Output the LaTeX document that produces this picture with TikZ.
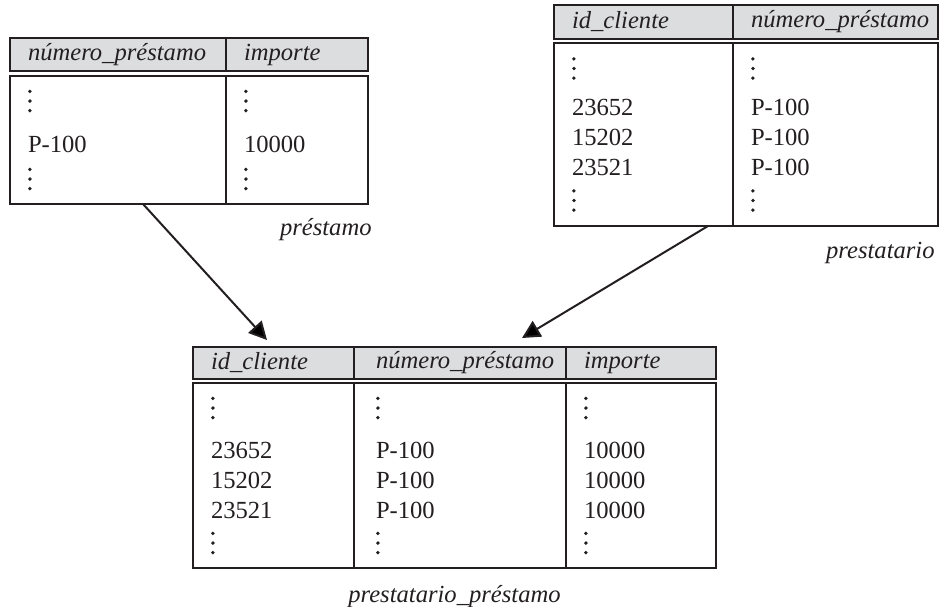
\documentclass[tikz,border=0pt]{standalone}
\usepackage{fontspec}
\setmainfont{Liberation Serif}
\usetikzlibrary{arrows.meta,positioning,calc}
\definecolor{ink}{HTML}{231F20}
\definecolor{hdr}{HTML}{DCDDDF}
\newcommand{\vdts}{\tikz[baseline=0pt]\foreach \k in {0,1,2} \fill[ink] (1.2pt,\k*4.8pt+0.9pt) circle (0.95pt);}
\tikzset{
  cell/.style  = {rectangle, draw=ink, line width=1.4pt, inner xsep=9pt, inner ysep=0pt, outer sep=0pt,
                  align=left, text=ink, font=\fontsize{12.3}{15}\selectfont},
  hcell/.style = {cell, fill=hdr, font=\fontsize{12.3}{15}\selectfont\itshape},
  bcell/.style = {cell, fill=white},
  rname/.style = {font=\fontsize{12.3}{15}\selectfont\itshape, text=ink, inner sep=0pt},
  fl/.style    = {-{Triangle[length=9pt,width=9pt]}, line width=1pt, draw=ink},
}
\begin{document}
\begin{tikzpicture}[x=0.5pt, y=-0.5pt]
\useasboundingbox (0,0) rectangle (942,606);
% prestamo
\node[hcell, anchor=north west, text width=90pt, minimum height=16.5pt] (pha) at (10,38) {número\_préstamo};
\node[hcell, right=0pt of pha, text width=53pt, minimum height=16.5pt] (phb) {importe};
\node[bcell, below=2.5pt of pha, text width=90pt, minimum height=64pt] (pba) {\vdts\\[5pt]P-100\\[4pt]\vdts};
\node[bcell, below=2.5pt of phb, text width=53pt, minimum height=64pt] (pbb) {\vdts\\[5pt]10000\\[4pt]\vdts};
\node[rname, anchor=base east] (lpre) at ([xshift=2pt,yshift=-15.5pt]pbb.south east) {préstamo};
% prestatario
\node[hcell, anchor=north west, text width=71.5pt, minimum height=17pt] (bha) at (554,5) {id\_cliente};
\node[hcell, right=0pt of bha, text width=84.5pt, minimum height=17pt] (bhb) {número\_préstamo};
\node[bcell, below=2pt of bha, text width=71.5pt, minimum height=91.5pt] (bba) {\vdts\\[3pt]23652\\15202\\23521\\[3pt]\vdts};
\node[bcell, below=2pt of bhb, text width=84.5pt, minimum height=91.5pt] (bbb) {\vdts\\[3pt]P-100\\P-100\\P-100\\[3pt]\vdts};
\node[rname, anchor=base east] (lbor) at ([xshift=-1.5pt,yshift=-16pt]bbb.south east) {prestatario};
% prestatario_prestamo
\node[hcell, anchor=north west, text width=62.5pt, minimum height=16pt] (rha) at (193,347) {id\_cliente};
\node[hcell, right=0pt of rha, inner xsep=11pt, text width=84pt, minimum height=16pt] (rhb) {número\_préstamo};
\node[hcell, right=0pt of rhb, text width=57pt, minimum height=16pt] (rhc) {importe};
\node[bcell, below=2pt of rha, text width=62.5pt, minimum height=92.5pt] (rba) {\vdts\\[4.5pt]23652\\15202\\23521\\[3pt]\vdts};
\node[bcell, below=2pt of rhb, inner xsep=11pt, text width=84pt, minimum height=92.5pt] (rbb) {\vdts\\[4.5pt]P-100\\P-100\\P-100\\[3pt]\vdts};
\node[bcell, below=2pt of rhc, text width=57pt, minimum height=92.5pt] (rbc) {\vdts\\[4.5pt]10000\\10000\\10000\\[3pt]\vdts};
\node[rname, anchor=base] (lres) at ([yshift=-17pt]$(rba.south west)!0.5!(rbc.south east)$) {prestatario\_préstamo};
\draw[fl] ([xshift=12.5pt]pba.south) -- ([xshift=-3.25pt,yshift=3.5pt]rha.north);
\draw[fl] ([xshift=32.25pt]bba.south) -- ([xshift=31pt,yshift=4.5pt]rhb.north);
\end{tikzpicture}
\end{document}
